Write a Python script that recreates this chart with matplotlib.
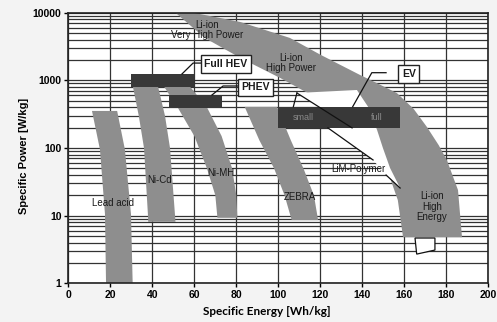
import numpy as np
import matplotlib.pyplot as plt
from matplotlib.patches import Polygon, Rectangle

plt.rcParams['font.family'] = ['Liberation Sans', 'DejaVu Sans']

# technology bands, outline points (energy Wh/kg, power W/kg)
lead_e = [11.2, 15.0, 17.4, 17.9, 30.6, 29.8, 26.9, 23.2]
lead_p = [353, 95, 10.5, 1, 1, 10.5, 95, 353]

nicd_e = [30.1, 33.5, 36.0, 37.9, 38.0, 51.0, 50.8, 48.4, 46.0, 42.0]
nicd_p = [1000, 300, 100, 10, 8.1, 8.1, 10, 100, 300, 1000]

nimh_e = [43.6, 52.0, 60.0, 66.0, 70.0, 71.0, 80.5, 80.0, 78.0, 73.0, 66.0, 55.5]
nimh_p = [1000, 400, 150, 50, 20, 9.3, 9.3, 20, 50, 150, 400, 1000]

zebra_e = [84.0, 91.0, 98.0, 103.0, 106.4, 119.0, 117.0, 112.0, 106.0, 99.4]
zebra_p = [405, 130, 50, 20, 8.6, 8.6, 20, 50, 130, 405]

liion_e = [59.4, 81.8, 105.6, 120, 139, 148, 156.6, 164.5, 170.9, 176.5, 180.4, 185.7, 187.6,
           159.5, 157, 152, 143.5, 132, 117.5, 101, 82, 65, 51]
liion_p = [10000, 7300, 4230, 2400, 1200, 880, 647, 380, 204, 110, 66, 23.9, 4.8,
           4.8, 17, 47, 111, 259, 567, 1080, 2140, 4230, 10000]

# LiM-Polymer: white strip, its outline pieces and its foot
lim_e = [108.9, 137.5, 142.8, 147.1, 149.9, 153.3, 158.1, 151.4, 145.2, 123.7, 118.9]
lim_p = [650, 720, 408, 185, 100, 50.6, 25.6, 39.9, 66.5, 198, 408]
lim_a_e, lim_a_p = [108.9, 135.2], [650, 198]
lim_b_e, lim_b_p = [123.7, 145.2], [198, 66.5]
lim_c_e, lim_c_p = [151.4, 158.1], [39.9, 25.6]
lim_foot_e = [165.2, 166.0, 174.7, 174.7]
lim_foot_p = [4.67, 2.7, 3.1, 4.67]

# application windows: (e0, e1, p0, p1)
full_hev = (30, 60, 800, 1240)
phev = (48, 73, 390, 605)
ev = (100, 158, 198, 408)

band_labels = ["Lead acid", "Ni-Cd", "Ni-MH", "ZEBRA", "LiM-Polymer",
               "Li-ion\nVery High Power", "Li-ion\nHigh Power", "Li-ion\nHigh\nEnergy"]
band_label_e = [21, 43.2, 72.6, 110.4, 138, 66, 106, 173.2]
band_label_p = [15.4, 33.7, 42.3, 19, 48.4, 5550, 1800, 13.6]

box_labels = ["Full HEV", "PHEV", "EV"]
box_label_e = [75, 89.2, 162.2]
box_label_p = [1750, 790, 1240]

y_ticks = [1, 10, 100, 1000, 10000]
y_ticklabels = ["1", "10", "100", "1000", "10000"]

fig = plt.figure(figsize=(4.97, 3.22), dpi=100, facecolor='#f3f3f3')
ax = fig.add_axes([0.1378, 0.1202, 0.8441, 0.8404])
ax.set_facecolor('white')
ax.set_yscale('log')
ax.set_xlim(0, 200)
ax.set_ylim(1, 10000)
ax.set_xticks(np.arange(0, 201, 20))
ax.set_yticks(y_ticks, y_ticklabels)
ax.grid(True, which='both', color='#333333', lw=0.9, zorder=0)
ax.set_axisbelow(True)
ax.tick_params(which='minor', length=0)
ax.tick_params(which='major', length=3, width=1, pad=2)
for lab in ax.get_xticklabels() + ax.get_yticklabels():
    lab.set_fontweight('bold')
    lab.set_fontsize(7.5)
for s in ax.spines.values():
    s.set_color('#222222')
    s.set_linewidth(1.2)

gray = '#8e8e8e'
for e, p in [(lead_e, lead_p), (nicd_e, nicd_p), (nimh_e, nimh_p),
             (zebra_e, zebra_p), (liion_e, liion_p)]:
    ax.add_patch(Polygon(np.column_stack([e, p]), closed=True, fc=gray, ec='none', zorder=2))

ax.add_patch(Polygon(np.column_stack([lim_e, lim_p]), closed=True, fc='white', ec='none', zorder=3))
for e, p in [(lim_a_e, lim_a_p), (lim_b_e, lim_b_p), (lim_c_e, lim_c_p)]:
    ax.plot(e, p, color='#111111', lw=0.9, zorder=4.5)
ax.add_patch(Polygon(np.column_stack([lim_foot_e, lim_foot_p]), closed=True, fc='white',
                     ec='#111111', lw=0.9, zorder=3))

dark = '#383838'
for e0, e1, p0, p1 in [full_hev, phev, ev]:
    ax.add_patch(Rectangle((e0, p0), e1 - e0, p1 - p0, fc=dark, ec='none', zorder=4))
ax.text(112, 286, "small", fontsize=6.5, color='#8a8a8a', ha='center', va='center', zorder=5)
ax.text(147, 286, "full", fontsize=6.5, color='#8a8a8a', ha='center', va='center', zorder=5)

# leader lines
ax.plot([64.6, 59.4, 54.1], [1800, 1800, 1242], color='#111111', lw=0.9, zorder=4.5)
ax.plot([80.8, 73.7, 68.4], [825, 825, 607], color='#111111', lw=0.9, zorder=4.5)
ax.plot([151.4, 144.6, 135.5], [1297, 1297, 408], color='#111111', lw=0.9, zorder=4.5)
ax.plot([107.2, 108.9], [408, 650], color='#111111', lw=0.9, zorder=4.5)

for t, e, p in zip(band_labels, band_label_e, band_label_p):
    ax.text(e, p, t, fontsize=7, color='#1a1a1a', ha='center', va='center',
            linespacing=1.05, zorder=6)

for t, e, p in zip(box_labels, box_label_e, box_label_p):
    ax.text(e, p, t, fontsize=7.5, fontweight='bold', color='#1a1a1a', ha='center', va='center',
            zorder=6, bbox=dict(boxstyle='square,pad=0.35', fc='white', ec='#222222', lw=1))

ax.set_ylabel("Specific Power [W/kg]", fontsize=8, fontweight='bold')
ax.yaxis.set_label_coords(-0.095, 0.47)
ax.set_xlabel("Specific Energy [Wh/kg]", fontsize=8.5, fontweight='bold',
              family=['Lato', 'DejaVu Sans'])
ax.xaxis.set_label_coords(0.473, -0.085)

fig.savefig("out.png", dpi=100, facecolor=fig.get_facecolor())
